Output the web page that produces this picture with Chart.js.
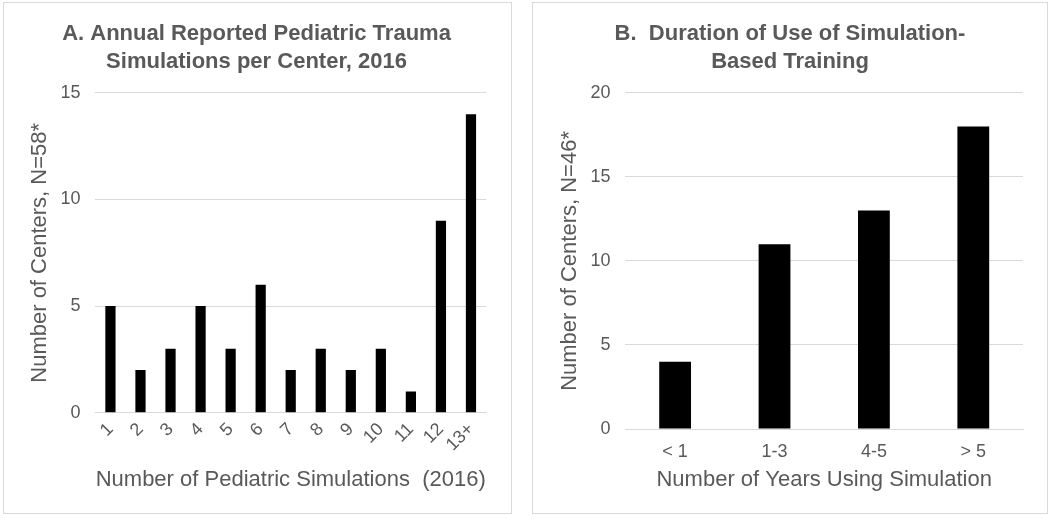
<!DOCTYPE html>
<html>
<head>
<meta charset="utf-8">
<script src="https://cdn.jsdelivr.net/npm/chart.js@4.4.1/dist/chart.umd.min.js"></script>
<style>
  body { margin: 0; background: #fff; width: 1050px; height: 519px; position: relative; overflow: hidden; }
  .panel { position: absolute; top: 2px; height: 512px; border: 1px solid #d9d9d9; box-sizing: border-box; }
  #pa { left: 3px; width: 509px; }
  #pb { left: 532px; width: 516px; }
  .panel canvas { display: block; }
</style>
</head>
<body>
<div class="panel" id="pa"><canvas id="chartA"></canvas></div>
<div class="panel" id="pb"><canvas id="chartB"></canvas></div>
<script>
var simLabels = ["1", "2", "3", "4", "5", "6", "7", "8", "9", "10", "11", "12", "13+"];
var simCenters = [5, 2, 3, 5, 3, 6, 2, 3, 2, 3, 1, 9, 14];

var yearLabels = ["< 1", "1-3", "4-5", "> 5"];
var yearCenters = [4, 11, 13, 18];

var grey = "#595959";
var font = "'Liberation Sans', Arial, sans-serif";

function makeChart(id, labels, values, opts) {
    var ctx = document.getElementById(id).getContext("2d");
    return new Chart(ctx, {
        type: "bar",
        data: {
            labels: labels,
            datasets: [{
                data: values,
                backgroundColor: "#000000",
                barPercentage: opts.barPct,
                categoryPercentage: 1.0
            }]
        },
        options: {
            responsive: false,
            animation: false,
            layout: { padding: opts.padding },
            scales: {
                x: {
                    grid: { display: false, drawTicks: false },
                    border: { color: "#d9d9d9" },
                    ticks: {
                        color: grey,
                        font: { family: font, size: 18 },
                        padding: opts.tickPad,
                        maxRotation: opts.rot,
                        minRotation: opts.rot,
                        autoSkip: false
                    },
                    title: {
                        display: true,
                        text: opts.xTitle,
                        color: grey,
                        font: { family: font, size: 22 },
                        padding: { top: opts.xTitlePad, bottom: 0 }
                    }
                },
                y: {
                    min: 0,
                    max: opts.max,
                    ticks: {
                        stepSize: 5,
                        color: grey,
                        padding: 15,
                        font: { family: font, size: 18 }
                    },
                    grid: { color: "#d9d9d9", drawTicks: false },
                    border: { display: false },
                    title: {
                        display: true,
                        text: opts.yTitle,
                        color: grey,
                        font: { family: font, size: 22 },
                        // tick padding is counted twice by the layout, pull it back
                        padding: { top: 0, bottom: -8 }
                    }
                }
            },
            plugins: {
                legend: { display: false },
                tooltip: { enabled: false },
                title: {
                    display: true,
                    text: opts.title,
                    color: grey,
                    font: { family: font, size: 22, weight: "bold", lineHeight: 1.27 },
                    padding: { top: 0, bottom: 17 }
                }
            }
        }
    });
}

document.getElementById("chartA").width = 507;
document.getElementById("chartA").height = 510;
document.getElementById("chartB").width = 514;
document.getElementById("chartB").height = 510;

makeChart("chartA", simLabels, simCenters, {
    barPct: 0.34,
    max: 15,
    rot: 45,
    tickPad: 6,
    xTitlePad: 5,
    padding: { left: 23, right: 25, top: 17, bottom: 20 },
    title: ["A. Annual Reported Pediatric Trauma", "Simulations per Center, 2016"],
    xTitle: "Number of Pediatric Simulations  (2016)",
    yTitle: "Number of Centers, N=58*"
});

makeChart("chartB", yearLabels, yearCenters, {
    barPct: 0.32,
    max: 20,
    rot: 0,
    tickPad: 12,
    xTitlePad: -8,
    padding: { left: 24, right: 24, top: 17, bottom: 20 },
    title: ["B.  Duration of Use of Simulation-", "Based Training"],
    xTitle: "Number of Years Using Simulation",
    yTitle: "Number of Centers, N=46*"
});
</script>
</body>
</html>
